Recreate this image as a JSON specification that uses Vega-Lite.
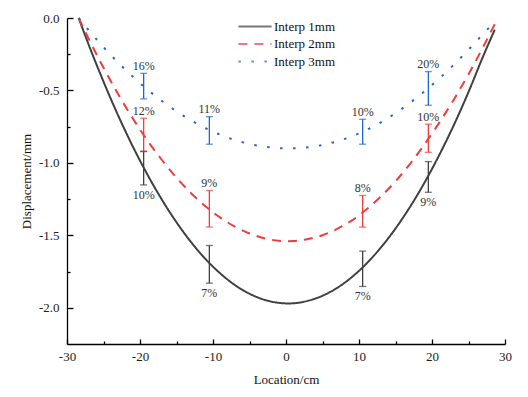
{
  "$schema": "https://vega.github.io/schema/vega-lite/v6.json",
  "width": 438,
  "height": 326,
  "autosize": {"type": "none"},
  "padding": {"left": 67, "top": 18, "right": 23, "bottom": 53},
  "background": "white",
  "config": {
    "view": {"stroke": null},
    "font": "Times New Roman",
    "axis": {
      "labelFont": "Times New Roman",
      "titleFont": "Times New Roman",
      "labelFontSize": 13,
      "titleFontSize": 13,
      "titleFontWeight": "normal",
      "labelColor": "#222",
      "titleColor": "#111",
      "domainColor": "#000",
      "tickColor": "#000",
      "domainWidth": 1.3,
      "tickWidth": 1.3,
      "grid": false
    }
  },
  "datasets": {
    "curves": [
      {"x": -28.4, "y": 0, "s": "Interp 1mm"},
      {"x": -27, "y": -0.188, "s": "Interp 1mm"},
      {"x": -25, "y": -0.439, "s": "Interp 1mm"},
      {"x": -23, "y": -0.672, "s": "Interp 1mm"},
      {"x": -21, "y": -0.885, "s": "Interp 1mm"},
      {"x": -19, "y": -1.079, "s": "Interp 1mm"},
      {"x": -17, "y": -1.254, "s": "Interp 1mm"},
      {"x": -15, "y": -1.41, "s": "Interp 1mm"},
      {"x": -13, "y": -1.547, "s": "Interp 1mm"},
      {"x": -11, "y": -1.665, "s": "Interp 1mm"},
      {"x": -9, "y": -1.763, "s": "Interp 1mm"},
      {"x": -7, "y": -1.843, "s": "Interp 1mm"},
      {"x": -5, "y": -1.903, "s": "Interp 1mm"},
      {"x": -3, "y": -1.944, "s": "Interp 1mm"},
      {"x": -1, "y": -1.966, "s": "Interp 1mm"},
      {"x": 0.3, "y": -1.97, "s": "Interp 1mm"},
      {"x": 1, "y": -1.969, "s": "Interp 1mm"},
      {"x": 3, "y": -1.952, "s": "Interp 1mm"},
      {"x": 5, "y": -1.917, "s": "Interp 1mm"},
      {"x": 7, "y": -1.863, "s": "Interp 1mm"},
      {"x": 9, "y": -1.789, "s": "Interp 1mm"},
      {"x": 11, "y": -1.696, "s": "Interp 1mm"},
      {"x": 13, "y": -1.584, "s": "Interp 1mm"},
      {"x": 15, "y": -1.453, "s": "Interp 1mm"},
      {"x": 17, "y": -1.303, "s": "Interp 1mm"},
      {"x": 19, "y": -1.134, "s": "Interp 1mm"},
      {"x": 21, "y": -0.945, "s": "Interp 1mm"},
      {"x": 23, "y": -0.738, "s": "Interp 1mm"},
      {"x": 25, "y": -0.511, "s": "Interp 1mm"},
      {"x": 27, "y": -0.265, "s": "Interp 1mm"},
      {"x": 28.6, "y": -0.08, "s": "Interp 1mm"},
      {"x": -28.4, "y": 0, "s": "Interp 2mm"},
      {"x": -27, "y": -0.147, "s": "Interp 2mm"},
      {"x": -25, "y": -0.343, "s": "Interp 2mm"},
      {"x": -23, "y": -0.525, "s": "Interp 2mm"},
      {"x": -21, "y": -0.692, "s": "Interp 2mm"},
      {"x": -19, "y": -0.844, "s": "Interp 2mm"},
      {"x": -17, "y": -0.98, "s": "Interp 2mm"},
      {"x": -15, "y": -1.102, "s": "Interp 2mm"},
      {"x": -13, "y": -1.209, "s": "Interp 2mm"},
      {"x": -11, "y": -1.301, "s": "Interp 2mm"},
      {"x": -9, "y": -1.378, "s": "Interp 2mm"},
      {"x": -7, "y": -1.44, "s": "Interp 2mm"},
      {"x": -5, "y": -1.487, "s": "Interp 2mm"},
      {"x": -3, "y": -1.52, "s": "Interp 2mm"},
      {"x": -1, "y": -1.537, "s": "Interp 2mm"},
      {"x": 0.3, "y": -1.54, "s": "Interp 2mm"},
      {"x": 1, "y": -1.539, "s": "Interp 2mm"},
      {"x": 3, "y": -1.526, "s": "Interp 2mm"},
      {"x": 5, "y": -1.499, "s": "Interp 2mm"},
      {"x": 7, "y": -1.456, "s": "Interp 2mm"},
      {"x": 9, "y": -1.398, "s": "Interp 2mm"},
      {"x": 11, "y": -1.322, "s": "Interp 2mm"},
      {"x": 13, "y": -1.232, "s": "Interp 2mm"},
      {"x": 15, "y": -1.127, "s": "Interp 2mm"},
      {"x": 17, "y": -1.006, "s": "Interp 2mm"},
      {"x": 19, "y": -0.87, "s": "Interp 2mm"},
      {"x": 21, "y": -0.722, "s": "Interp 2mm"},
      {"x": 23, "y": -0.562, "s": "Interp 2mm"},
      {"x": 25, "y": -0.388, "s": "Interp 2mm"},
      {"x": 27, "y": -0.2, "s": "Interp 2mm"},
      {"x": 28.6, "y": -0.042, "s": "Interp 2mm"},
      {"x": -28.4, "y": 0, "s": "Interp 3mm"},
      {"x": -27, "y": -0.086, "s": "Interp 3mm"},
      {"x": -25, "y": -0.201, "s": "Interp 3mm"},
      {"x": -23, "y": -0.307, "s": "Interp 3mm"},
      {"x": -21, "y": -0.404, "s": "Interp 3mm"},
      {"x": -19, "y": -0.493, "s": "Interp 3mm"},
      {"x": -17, "y": -0.573, "s": "Interp 3mm"},
      {"x": -15, "y": -0.644, "s": "Interp 3mm"},
      {"x": -13, "y": -0.707, "s": "Interp 3mm"},
      {"x": -11, "y": -0.761, "s": "Interp 3mm"},
      {"x": -9, "y": -0.806, "s": "Interp 3mm"},
      {"x": -7, "y": -0.842, "s": "Interp 3mm"},
      {"x": -5, "y": -0.869, "s": "Interp 3mm"},
      {"x": -3, "y": -0.888, "s": "Interp 3mm"},
      {"x": -1, "y": -0.898, "s": "Interp 3mm"},
      {"x": 0.3, "y": -0.9, "s": "Interp 3mm"},
      {"x": 1, "y": -0.899, "s": "Interp 3mm"},
      {"x": 3, "y": -0.892, "s": "Interp 3mm"},
      {"x": 5, "y": -0.876, "s": "Interp 3mm"},
      {"x": 7, "y": -0.851, "s": "Interp 3mm"},
      {"x": 9, "y": -0.817, "s": "Interp 3mm"},
      {"x": 11, "y": -0.773, "s": "Interp 3mm"},
      {"x": 13, "y": -0.72, "s": "Interp 3mm"},
      {"x": 15, "y": -0.657, "s": "Interp 3mm"},
      {"x": 17, "y": -0.585, "s": "Interp 3mm"},
      {"x": 19, "y": -0.505, "s": "Interp 3mm"},
      {"x": 21, "y": -0.418, "s": "Interp 3mm"},
      {"x": 23, "y": -0.322, "s": "Interp 3mm"},
      {"x": 25, "y": -0.219, "s": "Interp 3mm"},
      {"x": 27, "y": -0.11, "s": "Interp 3mm"},
      {"x": 28.6, "y": -0.025, "s": "Interp 3mm"}
    ],
    "bars": [
      {"x": -19.5, "s": "Interp 3mm", "lo": -0.558, "hi": -0.382, "label": "16%", "pos": "a"},
      {"x": -19.5, "s": "Interp 2mm", "lo": -0.918, "hi": -0.692, "label": "12%", "pos": "a"},
      {"x": -19.5, "s": "Interp 1mm", "lo": -1.152, "hi": -0.922, "label": "10%", "pos": "b"},
      {"x": -10.5, "s": "Interp 3mm", "lo": -0.871, "hi": -0.681, "label": "11%", "pos": "a"},
      {"x": -10.5, "s": "Interp 2mm", "lo": -1.443, "hi": -1.191, "label": "9%", "pos": "a"},
      {"x": -10.5, "s": "Interp 1mm", "lo": -1.83, "hi": -1.57, "label": "7%", "pos": "b"},
      {"x": 10.5, "s": "Interp 3mm", "lo": -0.871, "hi": -0.699, "label": "10%", "pos": "a"},
      {"x": 10.5, "s": "Interp 2mm", "lo": -1.443, "hi": -1.225, "label": "8%", "pos": "a"},
      {"x": 10.5, "s": "Interp 1mm", "lo": -1.853, "hi": -1.609, "label": "7%", "pos": "b"},
      {"x": 19.5, "s": "Interp 3mm", "lo": -0.602, "hi": -0.37, "label": "20%", "pos": "a"},
      {"x": 19.5, "s": "Interp 2mm", "lo": -0.927, "hi": -0.733, "label": "10%", "pos": "a"},
      {"x": 19.5, "s": "Interp 1mm", "lo": -1.203, "hi": -0.991, "label": "9%", "pos": "b"}
    ]
  },
  "resolve": {"axis": {"x": "independent", "y": "independent"}},
  "layer": [
    {
      "data": {"name": "curves"},
      "mark": {"type": "line", "interpolate": "monotone", "strokeWidth": 2},
      "encoding": {
        "x": {"field": "x", "type": "quantitative", "scale": {"domain": [-30, 30], "nice": false, "zero": false},
          "axis": {"orient": "bottom", "values": [-30, -20, -10, 0, 10, 20, 30], "labelExpr": "replace(datum.label, '\u2212', '-')", "tickSize": -5, "labelPadding": 11, "title": "Location/cm", "titlePadding": 10, "labelFlush": false}},
        "y": {"field": "y", "type": "quantitative", "scale": {"domain": [-2.25, 0], "nice": false, "zero": false},
          "axis": {"orient": "left", "values": [-2, -1.5, -1, -0.5, 0], "format": ".1f", "labelExpr": "replace(datum.label, '\u2212', '-')", "tickSize": -6, "labelPadding": 14, "title": "Displacement/mm", "titlePadding": 5, "labelFlush": false}},
        "color": {"field": "s", "type": "nominal",
          "scale": {"domain": ["Interp 1mm", "Interp 2mm", "Interp 3mm"], "range": ["#404040", "#f03c3c", "#1f66d6"]},
          "legend": {"title": null, "orient": "none", "legendX": 170, "legendY": 0, "symbolType": "stroke", "symbolSize": 1100, "symbolStrokeWidth": 2, "labelFont": "Times New Roman", "labelFontSize": 13, "labelColor": "#111", "labelOffset": 1, "rowPadding": 0.5, "clipHeight": 17}},
        "strokeDash": {"field": "s", "type": "nominal",
          "scale": {"domain": ["Interp 1mm", "Interp 2mm", "Interp 3mm"], "range": [[1, 0], [9, 7], [2.5, 10.5]]},
          "legend": {"title": null, "orient": "none", "legendX": 170, "legendY": 0, "symbolType": "stroke", "symbolSize": 1100, "symbolStrokeWidth": 2, "labelFont": "Times New Roman", "labelFontSize": 13, "labelColor": "#111", "labelOffset": 1, "rowPadding": 0.5, "clipHeight": 17}}
      }
    },
    {
      "data": {"name": "bars"},
      "mark": {"type": "rule", "strokeWidth": 1.3},
      "encoding": {
        "x": {"field": "x", "type": "quantitative",
          "axis": {"orient": "bottom", "values": [-25, -15, -5, 5, 15, 25], "tickSize": -3, "labels": false, "domain": false, "title": null}},
        "y": {"field": "lo", "type": "quantitative",
          "axis": {"orient": "left", "values": [-1.75, -1.25, -0.75, -0.25], "tickSize": -3, "labels": false, "domain": false, "title": null}},
        "y2": {"field": "hi"},
        "color": {"field": "s", "type": "nominal"}
      }
    },
    {
      "data": {"name": "bars"},
      "mark": {"type": "tick", "orient": "horizontal", "size": 7, "thickness": 1.3},
      "encoding": {
        "x": {"field": "x", "type": "quantitative", "axis": null},
        "y": {"field": "lo", "type": "quantitative", "axis": null},
        "color": {"field": "s", "type": "nominal"}
      }
    },
    {
      "data": {"name": "bars"},
      "mark": {"type": "tick", "orient": "horizontal", "size": 7, "thickness": 1.3},
      "encoding": {
        "x": {"field": "x", "type": "quantitative", "axis": null},
        "y": {"field": "hi", "type": "quantitative", "axis": null},
        "color": {"field": "s", "type": "nominal"}
      }
    },
    {
      "data": {"name": "bars"},
      "transform": [{"filter": "datum.pos == 'a'"}],
      "mark": {"type": "text", "font": "Times New Roman", "fontSize": 12, "color": "#333", "baseline": "middle", "dy": -7.5},
      "encoding": {
        "x": {"field": "x", "type": "quantitative", "axis": null},
        "y": {"field": "hi", "type": "quantitative", "axis": null},
        "text": {"field": "label"}
      }
    },
    {
      "data": {"name": "bars"},
      "transform": [{"filter": "datum.pos == 'b'"}],
      "mark": {"type": "text", "font": "Times New Roman", "fontSize": 12, "color": "#333", "baseline": "middle", "dy": 10},
      "encoding": {
        "x": {"field": "x", "type": "quantitative", "axis": null},
        "y": {"field": "lo", "type": "quantitative", "axis": null},
        "text": {"field": "label"}
      }
    }
  ]
}
